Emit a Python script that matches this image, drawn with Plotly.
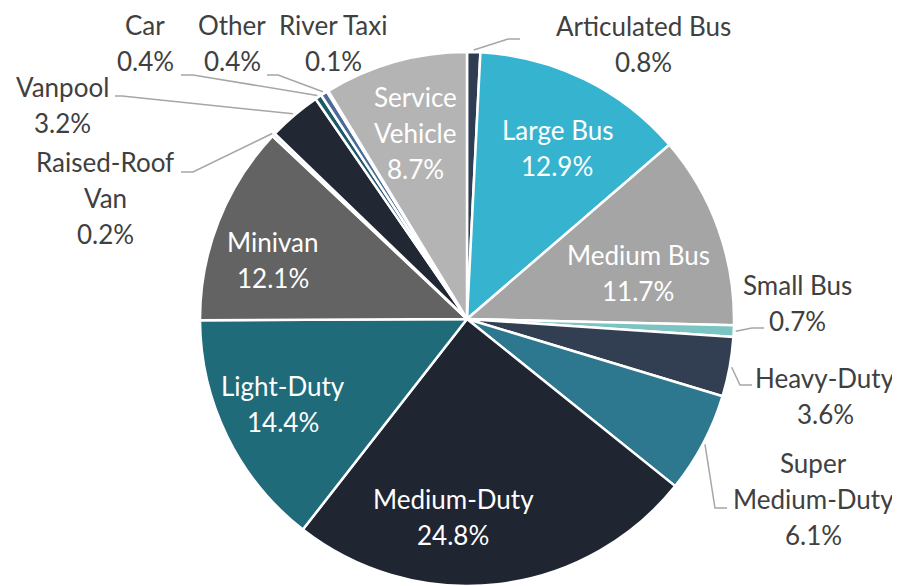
import math
import plotly.graph_objects as go

# ---------------- data ----------------
categories = ["Articulated Bus", "Large Bus", "Medium Bus", "Small Bus", "Heavy-Duty",
              "Super Medium-Duty", "Medium-Duty", "Light-Duty", "Minivan", "Raised-Roof Van",
              "Vanpool", "Car", "Other", "River Taxi", "Service Vehicle"]
shares = [0.8, 12.9, 11.7, 0.7, 3.6, 6.1, 24.8, 14.4, 12.1, 0.2, 3.2, 0.4, 0.4, 0.1, 8.7]
colors = ["#2f3d52", "#36b4cf", "#a5a5a5", "#7cc4c2", "#323e51", "#2e788f", "#202532",
          "#206b7a", "#636363", "#e6e6e6", "#212733", "#1d5a68", "#4a6b9a", "#d0d0d0", "#b4b4b4"]
label_lines = {
    "Service Vehicle": ["Service", "Vehicle"],
    "Raised-Roof Van": ["Raised-Roof", "Van"],
    "Super Medium-Duty": ["Super", "Medium-Duty"],
}

# ---------------- layout geometry (screen px) ----------------
OFF = 8                      # page body margin
W, H = 900 - OFF, 586 - OFF  # figure size
CX, CY, R = 467, 319, 267    # pie centre / radius on screen
FONT = "Lato"
FS = 26
LINE = 36

inside = {  # label centre (screen px)
    "Large Bus": (557, 148), "Medium Bus": (638, 273), "Medium-Duty": (453, 517),
    "Light-Duty": (283, 404), "Minivan": (273, 260), "Service Vehicle": (415, 133),
}
outside = {  # label centre, leader-line elbow and end (screen px)
    "Articulated Bus": ((643, 44), (508, 39), (520, 39)),
    "Small Bus": ((797, 303), (752, 328), (764, 328)),
    "Heavy-Duty": ((825, 396), (740, 385), (752, 385)),
    "Super Medium-Duty": ((813, 499), (715, 508), (727, 508)),
    "Raised-Roof Van": ((105, 198), (193, 172), (181, 172)),
    "Vanpool": ((62, 105), (122, 96), (115, 96)),
    "Car": ((145, 43), (193, 75), (181, 75)),
    "Other": ((232, 43), (278, 75), (267, 75)),
    "River Taxi": ((333, 43), None, None),
}


def px2paper(x, y):
    return (x - OFF) / W, 1 - (y - OFF) / H


fx0, _ = px2paper(CX - 300, 0)
fx1, _ = px2paper(CX + 300, 0)
_, fy1 = px2paper(0, CY - R)

fig = go.Figure(go.Pie(
    labels=categories, values=shares, sort=False, direction="clockwise", rotation=0,
    marker=dict(colors=colors, line=dict(color="white", width=2.5)),
    textinfo="none", hoverinfo="label+percent", showlegend=False,
    domain=dict(x=[fx0, fx1], y=[0, fy1]),
))

annotations = []
shapes = []
total = sum(shares)
cum = 0.0
for name, v in zip(categories, shares):
    mid = (cum + v / 2) / total * 2 * math.pi
    cum += v
    lines = label_lines.get(name, [name]) + [f"{v:.1f}%"]
    if name in inside:
        (lx, ly), col = inside[name], "white"
    else:
        (lx, ly), elbow, end = outside[name]
        col = "#404040"
        if elbow is not None:
            ex = CX + (R + 2) * math.sin(mid)
            ey = CY - (R + 2) * math.cos(mid)
            p = [px2paper(ex, ey), px2paper(*elbow), px2paper(*end)]
            shapes.append(dict(type="path", xref="paper", yref="paper",
                               path="M {} {} L {} {} L {} {}".format(p[0][0], p[0][1], p[1][0], p[1][1], p[2][0], p[2][1]),
                               line=dict(color="#a6a6a6", width=1.5)))
    n = len(lines)
    for k, t in enumerate(lines):
        yy = ly + (k - (n - 1) / 2) * LINE
        x, y = px2paper(lx, yy)
        annotations.append(dict(x=x, y=y, xref="paper", yref="paper", text=t, showarrow=False,
                                xanchor="center", yanchor="middle",
                                font=dict(family=FONT, size=FS, color=col)))

fig.update_layout(width=W, height=H, margin=dict(l=0, r=0, t=0, b=0),
                  paper_bgcolor="white", plot_bgcolor="white",
                  annotations=annotations, shapes=shapes)
fig.write_html("out.html")
